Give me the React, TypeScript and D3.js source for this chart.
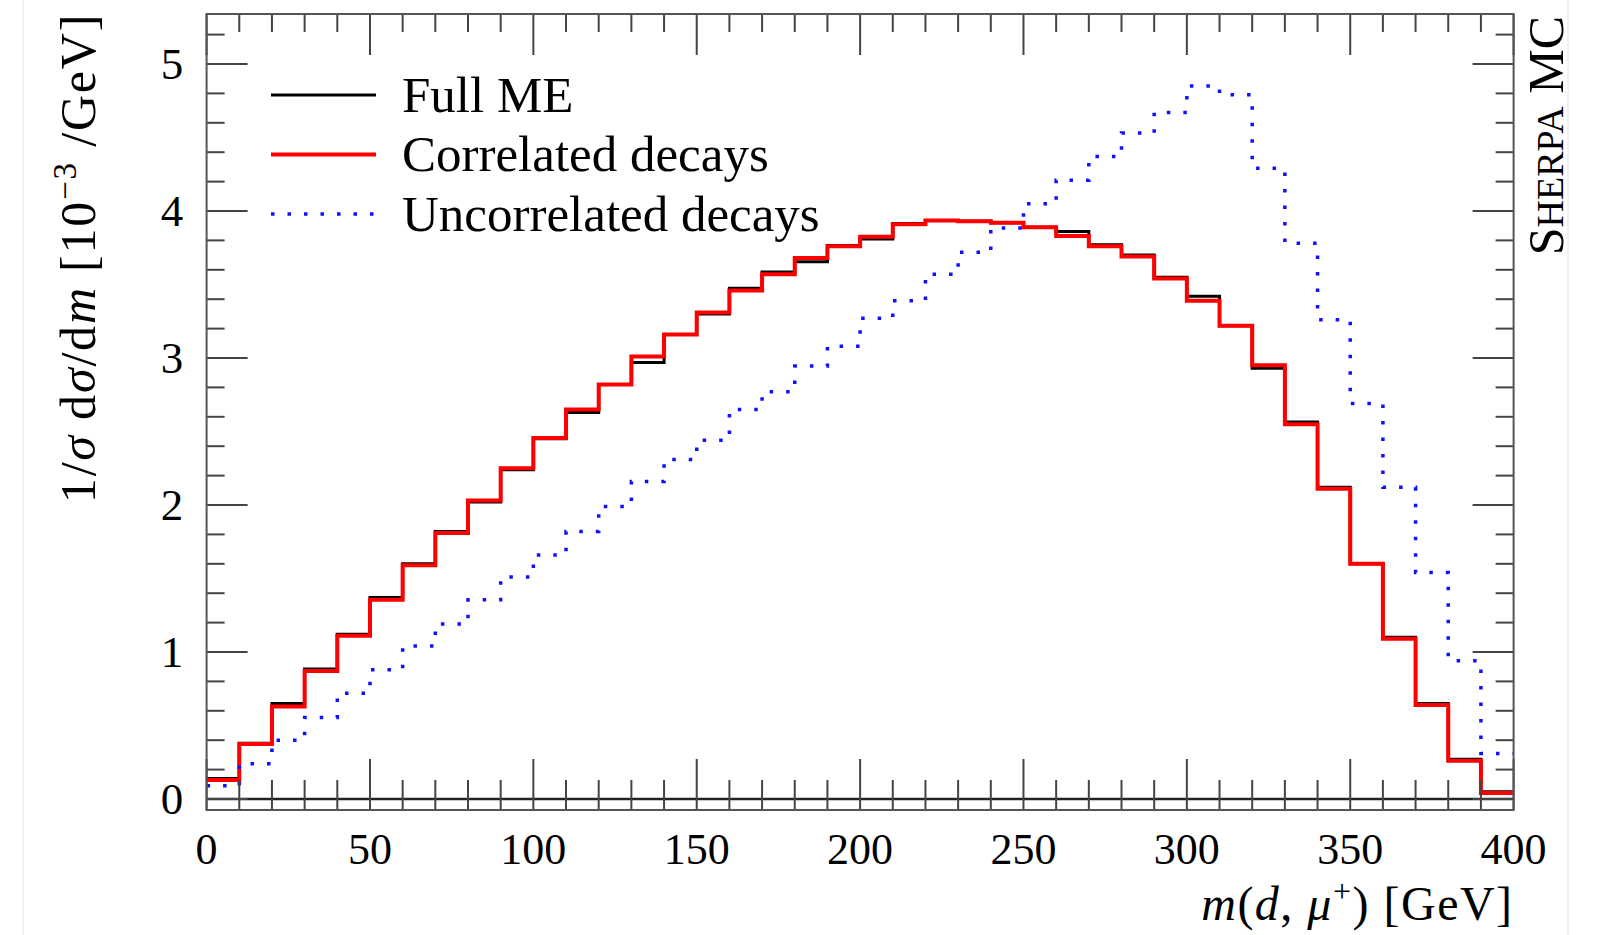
import React, { useEffect, useRef } from 'react';
import * as d3 from 'd3';

const width = 1604;
const height = 935;
// plot frame in page pixels
const frame = { left: 206.6, right: 1513.6, top: 14, bottom: 810 };
const font = '"Liberation Serif", "Times New Roman", serif';

// 10 GeV bins from 0 to 400
const binWidth = 10;
const massRange = [0, 400];

const fullME = [0.14, 0.38, 0.65, 0.885, 1.12, 1.37, 1.6, 1.82, 2.02, 2.24,
  2.45, 2.63, 2.82, 2.97, 3.16, 3.3, 3.475, 3.585, 3.655, 3.765,
  3.81, 3.915, 3.935, 3.93, 3.92, 3.89, 3.86, 3.77, 3.7, 3.55,
  3.42, 3.22, 2.93, 2.565, 2.12, 1.6, 1.1, 0.65, 0.27, 0.05];

const correlated = [0.13, 0.375, 0.63, 0.87, 1.11, 1.355, 1.59, 1.81, 2.03, 2.25,
  2.455, 2.65, 2.82, 3.01, 3.16, 3.31, 3.46, 3.57, 3.68, 3.76,
  3.825, 3.91, 3.935, 3.93, 3.92, 3.89, 3.83, 3.76, 3.69, 3.54,
  3.39, 3.22, 2.95, 2.55, 2.11, 1.6, 1.09, 0.64, 0.26, 0.04];

const uncorrelated = [0.09, 0.24, 0.4, 0.555, 0.72, 0.88, 1.04, 1.19, 1.355, 1.51,
  1.66, 1.82, 1.99, 2.16, 2.31, 2.44, 2.65, 2.77, 2.945, 3.08,
  3.27, 3.39, 3.57, 3.72, 3.885, 4.05, 4.21, 4.37, 4.53, 4.67,
  4.85, 4.79, 4.29, 3.78, 3.26, 2.69, 2.12, 1.54, 0.94, 0.31];

const xTicks = [0, 50, 100, 150, 200, 250, 300, 350, 400];
const yTicks = [0, 1, 2, 3, 4, 5];
const legendLabels = ['Full ME', 'Correlated decays', 'Uncorrelated decays'];

const series = [
  { values: fullME, color: '#000000', width: 3, dash: null },
  { values: correlated, color: '#ff0000', width: 4, dash: null },
  { values: uncorrelated, color: '#1010ff', width: 3.5, dash: '3.5,13' },
];

export default function App() {
  const ref = useRef<SVGSVGElement>(null);

  useEffect(() => {
    const svg = d3.select(ref.current);
    svg.selectAll('*').remove();

    const x = d3.scaleLinear().domain(massRange).range([frame.left, frame.right]);
    const y = d3.scaleLinear().domain([0, 5]).range([799, 64]);

    // faint page edges
    svg.append('line').attr('x1', 23).attr('x2', 23).attr('y1', 0).attr('y2', height)
      .attr('stroke', '#ececec').attr('stroke-width', 1.5);
    svg.append('line').attr('x1', 1568).attr('x2', 1568).attr('y1', 0).attr('y2', height)
      .attr('stroke', '#ececec').attr('stroke-width', 1.5);

    const g = svg.append('g');

    // histograms as steps
    const step = d3.line<number>()
      .x((d, i) => x(massRange[0] + i * binWidth))
      .y(d => y(d))
      .curve(d3.curveStepAfter);

    series.forEach(s => {
      const pts = [...s.values, s.values[s.values.length - 1]];
      const p = g.append('path')
        .attr('d', step(pts))
        .attr('fill', 'none')
        .attr('stroke', s.color)
        .attr('stroke-width', s.width)
        .attr('stroke-linejoin', 'miter');
      if (s.dash) p.attr('stroke-dasharray', s.dash);
    });

    // zero line
    g.append('line')
      .attr('x1', frame.left).attr('x2', frame.right)
      .attr('y1', y(0)).attr('y2', y(0))
      .attr('stroke', '#222').attr('stroke-width', 2.5);

    // ticks
    const tickColor = '#444';
    const xMinor = d3.range(0, 41).map(i => i * binWidth);
    xMinor.forEach(v => {
      const major = v % 50 === 0;
      const px = x(v);
      // bottom
      g.append('line').attr('x1', px).attr('x2', px)
        .attr('y1', frame.bottom).attr('y2', frame.bottom - (major ? 51 : 30))
        .attr('stroke', tickColor).attr('stroke-width', 2);
      // top
      g.append('line').attr('x1', px).attr('x2', px)
        .attr('y1', frame.top).attr('y2', frame.top + (major ? 41 : 18))
        .attr('stroke', tickColor).attr('stroke-width', 2);
    });

    const yMinor = d3.range(0, 27).map(i => +(i * 0.2).toFixed(1))
      .filter(v => y(v) > frame.top + 2);
    yMinor.forEach((v, i) => {
      const major = i % 5 === 0;
      const py = y(v);
      g.append('line').attr('x1', frame.left).attr('x2', frame.left + (major ? 41 : 18))
        .attr('y1', py).attr('y2', py)
        .attr('stroke', tickColor).attr('stroke-width', 2);
      g.append('line').attr('x1', frame.right).attr('x2', frame.right - (major ? 41 : 18))
        .attr('y1', py).attr('y2', py)
        .attr('stroke', tickColor).attr('stroke-width', 2);
    });

    // frame
    g.append('rect')
      .attr('x', frame.left).attr('y', frame.top)
      .attr('width', frame.right - frame.left).attr('height', frame.bottom - frame.top)
      .attr('fill', 'none').attr('stroke', '#555').attr('stroke-width', 2);

    // tick labels
    g.selectAll('.xlab').data(xTicks).enter().append('text')
      .attr('x', d => x(d)).attr('y', 864)
      .attr('text-anchor', 'middle')
      .attr('font-family', font).attr('font-size', 44)
      .text(d => d);

    g.selectAll('.ylab').data(yTicks).enter().append('text')
      .attr('x', 172).attr('y', d => y(d) + 15)
      .attr('text-anchor', 'middle')
      .attr('font-family', font).attr('font-size', 45)
      .text(d => d);

    // x axis title
    const xt = g.append('text')
      .attr('x', frame.right).attr('y', 920)
      .attr('text-anchor', 'end')
      .attr('font-family', font).attr('font-size', 48)
      .attr('letter-spacing', 1.5);
    xt.append('tspan').attr('font-style', 'italic').text('m');
    xt.append('tspan').text('(');
    xt.append('tspan').attr('font-style', 'italic').text('d');
    xt.append('tspan').text(', ');
    xt.append('tspan').attr('font-style', 'italic').text('μ');
    xt.append('tspan').attr('font-size', 32).attr('dy', -18).text('+');
    xt.append('tspan').attr('dy', 18).text(') [GeV]');

    // y axis title
    const yt = g.append('text')
      .attr('transform', 'translate(95,258) rotate(-90)')
      .attr('text-anchor', 'middle')
      .attr('font-family', font).attr('font-size', 50)
      .attr('letter-spacing', 1.8);
    yt.append('tspan').text('1/');
    yt.append('tspan').attr('font-style', 'italic').text('σ');
    yt.append('tspan').text(' d');
    yt.append('tspan').attr('font-style', 'italic').text('σ');
    yt.append('tspan').text('/d');
    yt.append('tspan').attr('font-style', 'italic').text('m');
    yt.append('tspan').text(' [10');
    yt.append('tspan').attr('font-size', 33).attr('dy', -19).text('−3');
    yt.append('tspan').attr('dy', 19).text(' /GeV]');

    // legend
    const rowY = [95, 154.5, 214];
    series.forEach((s, i) => {
      const l = g.append('line')
        .attr('x1', 271).attr('x2', 376)
        .attr('y1', rowY[i]).attr('y2', rowY[i])
        .attr('stroke', s.color).attr('stroke-width', s.width);
      if (s.dash) l.attr('stroke-dasharray', s.dash);
      g.append('text')
        .attr('x', 402).attr('y', rowY[i] + 16.5)
        .attr('font-family', font).attr('font-size', 51)
        .text(legendLabels[i]);
    });

    // generator tag
    const tag = g.append('text')
      .attr('transform', 'translate(1563,16) rotate(-90)')
      .attr('text-anchor', 'end')
      .attr('font-family', font).attr('font-size', 50);
    tag.append('tspan').text('S');
    tag.append('tspan').attr('font-size', 38).text('HERPA');
    tag.append('tspan').text(' MC');
  }, []);

  return (
    <svg ref={ref} width={width} height={height}
      style={{ position: 'absolute', left: 0, top: 0, background: '#fff' }} />
  );
}
